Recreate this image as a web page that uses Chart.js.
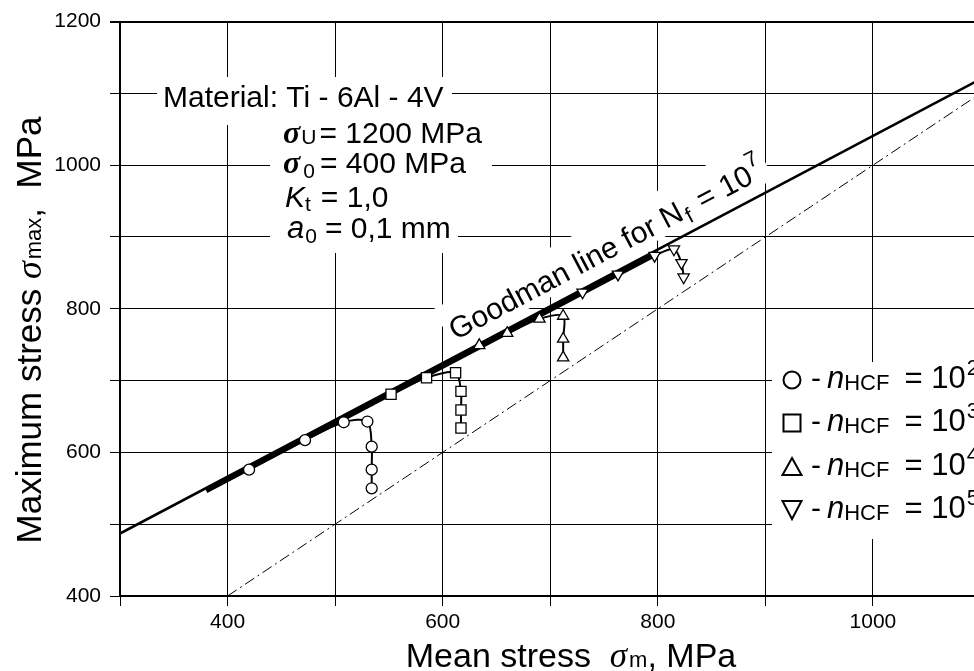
<!DOCTYPE html>
<html>
<head>
<meta charset="utf-8">
<script src="https://cdn.jsdelivr.net/npm/chart.js@4.4.1/dist/chart.umd.min.js"></script>
<style>
  html, body { margin: 0; padding: 0; background: #fff; overflow: hidden; }
  #wrap { position: absolute; left: 0; top: 0; width: 990px; height: 671px; }
</style>
</head>
<body>
<div id="wrap"><canvas id="myChart"></canvas></div>
<script>
// max stress vs mean stress, Ti-6Al-4V

var xLabels = [400, 600, 800, 1000];
var yLabels = [400, 600, 800, 1000, 1200];

// n_HCF = 10^2 .. 10^5
var hcf2x = [420, 472, 508, 530, 534, 534, 534];
var hcf2y = [576, 617, 642, 643, 608, 576, 550];
var hcf3x = [552, 585, 612, 617, 617, 617];
var hcf3y = [681, 704, 711, 685, 659, 634];
var hcf4x = [634, 660, 690, 712, 712, 712];
var hcf4y = [749, 766, 786, 790, 758, 732];
var hcf5x = [730, 763, 797, 815, 822, 824];
var hcf5y = [823, 848, 874, 883, 864, 844];

// Goodman line, bold trace along it, and sigma_max = sigma_m
var goodmanX = [300, 1100];
var goodmanY = [487, 1120];
var traceX = [380, 796];
var traceY = [547, 875];
var diagX = [400, 1100];
var diagY = [400, 1100];

var SANS = "'Liberation Sans', Arial, sans-serif";
var SIG = "'Liberation Serif', serif";

function pts(xs, ys) {
  return xs.map(function (x, i) { return { x: x, y: ys[i] }; });
}

function series(label, xs, ys, style, rot, r) {
  return {
    label: label,
    data: pts(xs, ys),
    showLine: true,
    borderColor: '#000',
    borderWidth: 2,
    tension: 0.3,
    pointStyle: style,
    rotation: rot,
    pointRadius: r,
    pointBackgroundColor: '#fff',
    pointBorderColor: '#000',
    pointBorderWidth: 1.3
  };
}

function plainLine(label, xs, ys, w, dash) {
  return {
    label: label,
    data: pts(xs, ys),
    showLine: true,
    borderColor: '#000',
    borderWidth: w,
    borderDash: dash || [],
    pointRadius: 0,
    tension: 0
  };
}

// draws a row of text pieces, returns width
function runs(ctx, x, y, parts, measureOnly) {
  var cx = x;
  parts.forEach(function (p) {
    ctx.font = p.f;
    if (!measureOnly) ctx.fillText(p.t, cx, y + (p.dy || 0));
    cx += ctx.measureText(p.t).width + (p.gap || 0);
  });
  return cx - x;
}

var notes = {
  id: 'notes',
  beforeDatasetsDraw: function (chart) {
    var ctx = chart.ctx;
    var xs = chart.scales.x, ys = chart.scales.y;
    var f30 = '30px ' + SANS, f21 = '21px ' + SANS;
    var sig = 'bold italic 32px ' + SIG;
    ctx.save();
    ctx.textBaseline = 'alphabetic';
    ctx.textAlign = 'left';

    // material box
    ctx.fillStyle = '#fff';
    ctx.fillRect(157, 77, 295, 48);
    ctx.fillRect(270, 112, 188, 141);
    ctx.fillRect(270, 115, 222, 68);
    ctx.fillStyle = '#000';
    runs(ctx, 163, 107, [{ t: 'Material: Ti - 6Al - 4V', f: f30 }]);
    runs(ctx, 283, 143, [
      { t: '\u03c3', f: sig, gap: 1 },
      { t: 'U', f: f21, dy: 1, gap: 3 },
      { t: '= 1200 MPa', f: f30 }
    ]);
    runs(ctx, 283, 173, [
      { t: '\u03c3', f: sig, gap: 3 },
      { t: '0', f: f21, dy: 5, gap: 5 },
      { t: '= 400 MPa', f: f30 }
    ]);
    runs(ctx, 285, 207, [
      { t: 'K', f: 'italic 30px ' + SANS },
      { t: 't', f: f21, dy: 4, gap: 10 },
      { t: '= 1,0', f: f30 }
    ]);
    runs(ctx, 287, 238, [
      { t: 'a', f: 'italic 31px ' + SANS, gap: 1 },
      { t: '0', f: f21, dy: 5, gap: 8 },
      { t: '= 0,1 mm', f: f30 }
    ]);

    // Goodman label along the line
    var p0x = xs.getPixelForValue(goodmanX[0]), p0y = ys.getPixelForValue(goodmanY[0]);
    var p1x = xs.getPixelForValue(goodmanX[1]), p1y = ys.getPixelForValue(goodmanY[1]);
    var ang = Math.atan2(p1y - p0y, p1x - p0x);
    var sm = 618;
    var gy = goodmanY[0] + (sm - goodmanX[0]) * (goodmanY[1] - goodmanY[0]) / (goodmanX[1] - goodmanX[0]);
    var lx = xs.getPixelForValue(sm), ly = ys.getPixelForValue(gy);
    var d = 14;
    var ax = lx + d * Math.sin(ang), ay = ly - d * Math.cos(ang);
    var gparts = [
      { t: 'Goodman line for N', f: '30px ' + SANS, gap: 2 },
      { t: 'f', f: '22px ' + SANS, dy: 6, gap: 3 },
      { t: ' = 10', f: '30px ' + SANS, gap: 1 },
      { t: '7', f: '22px ' + SANS, dy: -15 }
    ];
    ctx.translate(ax, ay);
    ctx.rotate(ang);
    var gw = runs(ctx, 0, 0, gparts, true);
    ctx.fillStyle = '#fff';
    ctx.fillRect(-5, -38, gw + 10, 44);
    ctx.fillStyle = '#000';
    runs(ctx, 0, 0, gparts);
    ctx.setTransform(1, 0, 0, 1, 0, 0);

    // legend box
    ctx.fillStyle = '#fff';
    ctx.fillRect(772, 362, 230, 177);
    ctx.fillStyle = '#000';
    var rows = [
      { s: 'circle', p: '2' },
      { s: 'rect', p: '3' },
      { s: 'up', p: '4' },
      { s: 'down', p: '5' }
    ];
    var base = [388, 431, 475, 518];
    rows.forEach(function (r, i) {
      var by = base[i], cx = 792, cy = by - 8;
      ctx.beginPath();
      ctx.lineWidth = 2;
      ctx.strokeStyle = '#000';
      if (r.s === 'circle') {
        ctx.arc(cx, cy, 8.5, 0, Math.PI * 2);
      } else if (r.s === 'rect') {
        ctx.rect(cx - 8.5, cy - 8.5, 17, 17);
      } else if (r.s === 'up') {
        ctx.moveTo(cx, cy - 9);
        ctx.lineTo(cx + 9.5, cy + 8);
        ctx.lineTo(cx - 9.5, cy + 8);
        ctx.closePath();
      } else {
        ctx.moveTo(cx - 9.5, cy - 9);
        ctx.lineTo(cx + 9.5, cy - 9);
        ctx.lineTo(cx, cy + 9);
        ctx.closePath();
      }
      ctx.stroke();
      runs(ctx, 811, by, [
        { t: '-', f: f30, gap: 6 },
        { t: 'n', f: 'italic 31px ' + SANS },
        { t: 'HCF', f: '22px ' + SANS, dy: 2, gap: 15 },
        { t: '= 10', f: '31px ' + SANS, gap: 1 },
        { t: r.p, f: '22px ' + SANS, dy: -13 }
      ]);
    });
    ctx.restore();
  },
  afterDraw: function (chart) {
    var ctx = chart.ctx;
    var big = '34px ' + SANS, sub = '22px ' + SANS, sg = 'italic 35px ' + SIG;
    ctx.save();
    ctx.fillStyle = '#000';
    ctx.textBaseline = 'alphabetic';
    ctx.textAlign = 'left';
    var xt = [
      { t: 'Mean stress  ', f: big },
      { t: '\u03c3', f: sg, gap: 2 },
      { t: 'm', f: sub },
      { t: ', MPa', f: big }
    ];
    var w = runs(ctx, 0, 0, xt, true);
    runs(ctx, 571 - w / 2, 667, xt);

    var big2 = '35px ' + SANS;
    var yt = [
      { t: 'Maximum stress ', f: big2 },
      { t: '\u03c3', f: 'italic 36px ' + SIG, gap: 2 },
      { t: 'max', f: sub },
      { t: ',  MPa', f: big2 }
    ];
    ctx.translate(41, 330);
    ctx.rotate(-Math.PI / 2);
    w = runs(ctx, 0, 0, yt, true);
    runs(ctx, -w / 2, 0, yt);
    ctx.restore();
  }
};

var ctx = document.getElementById('myChart');
var myChart = new Chart(ctx, {
  type: 'scatter',
  data: {
    datasets: [
      series('n = 10^2', hcf2x, hcf2y, 'circle', 0, 5.5),
      series('n = 10^3', hcf3x, hcf3y, 'rect', 0, 7.2),
      series('n = 10^4', hcf4x, hcf4y, 'triangle', 0, 6.5),
      series('n = 10^5', hcf5x, hcf5y, 'triangle', 180, 6.5),
      plainLine('trace', traceX, traceY, 5.5),
      plainLine('Goodman', goodmanX, goodmanY, 2.5),
      plainLine('diag', diagX, diagY, 1, [11, 4, 2, 4])
    ]
  },
  options: {
    responsive: true,
    maintainAspectRatio: false,
    animation: false,
    layout: { padding: { top: 20, right: 9.5, left: 0, bottom: 0 } },
    plugins: {
      legend: { display: false },
      tooltip: { enabled: false }
    },
    scales: {
      x: {
        type: 'linear',
        min: 300,
        max: 1100,
        afterFit: function (s) { s.height = 75; },
        ticks: {
          stepSize: 100,
          autoSkip: false,
          maxRotation: 0,
          padding: 4,
          color: '#000',
          font: { family: SANS, size: 21 },
          callback: function (v) { return xLabels.indexOf(v) >= 0 ? String(v) : ''; }
        },
        grid: { color: '#000', lineWidth: 1, tickLength: 10 },
        border: { color: '#000', width: 2 }
      },
      y: {
        min: 400,
        max: 1200,
        afterFit: function (s) { s.width = 120; },
        ticks: {
          stepSize: 100,
          autoSkip: false,
          padding: 9,
          color: '#000',
          font: { family: SANS, size: 21 },
          callback: function (v) { return yLabels.indexOf(v) >= 0 ? String(v) : ''; }
        },
        grid: {
          color: '#000',
          tickLength: 10,
          lineWidth: function (c) { return c.tick && c.tick.value === 1200 ? 2 : 1; }
        },
        border: { color: '#000', width: 2 }
      }
    }
  },
  plugins: [notes]
});
</script>
</body>
</html>
